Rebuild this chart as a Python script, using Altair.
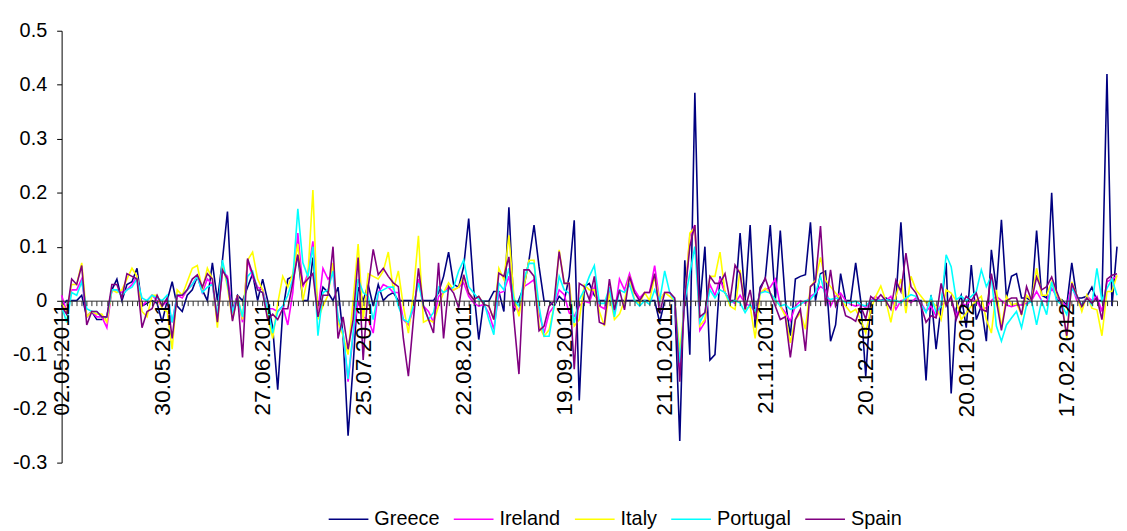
import json
import altair as alt
import pandas as pd

countries = ["Greece", "Ireland", "Italy", "Portugal", "Spain"]
colors = ["#000080", "#FF00FF", "#FFFF00", "#00FFFF", "#800080"]
date_labels = ["02.05.2011", "30.05.2011", "27.06.2011", "25.07.2011", "22.08.2011",
               "19.09.2011", "21.10.2011", "21.11.2011", "20.12.2011", "20.01.2012",
               "17.02.2012"]
label_step = 20
y_ticks = [-0.3, -0.2, -0.1, 0.0, 0.1, 0.2, 0.3, 0.4, 0.5]

greece = [
    -0.01, 0.0, 0.0, 0.0, 0.01, -0.03, -0.02, -0.035, -0.035, -0.03, 0.02, 0.04, 0.0, 0.03, 0.035, 0.06, -0.01, -0.005, 0.0, -0.005, -0.04, 0.0, 0.035, -0.01, -0.02, 0.01, 0.02,
    0.045, 0.02, 0.0, 0.07, 0.0, 0.075, 0.165, -0.02, 0.01, 0.0, 0.025, 0.05, 0.0, 0.04, 0.0, -0.05, -0.165, -0.02, 0.04, 0.045, 0.085, 0.0, 0.0, 0.08, -0.015, 0.025, 0.015,
    0.0, 0.025, -0.065, -0.25, -0.12, 0.025, 0.0, 0.03, -0.01, 0.03, 0.0, 0.01, 0.015, 0.0, 0.0, 0.0, 0.0, 0.0, 0.0, 0.0, 0.0, 0.015, 0.045, 0.09, 0.03, 0.025,
    0.063, 0.152, 0.02, -0.072, -0.001, -0.001, 0.017, 0.017, -0.02, 0.173, -0.02, 0.002, 0.026, 0.075, 0.14, 0.063, -0.001, -0.001, -0.01, 0.008, -0.001, 0.045, 0.149, -0.185, 0.026, 0.032,
    0.01, 0.0, 0.0, 0.0, 0.0, 0.0, 0.0, 0.0, 0.0, 0.0, 0.0, 0.0, 0.0, -0.04, 0.0, 0.0, 0.0, -0.26, 0.075, -0.1, 0.385, -0.01, 0.1, -0.11, -0.1, 0.045, 0.015,
    0.0, 0.0, 0.125, 0.0, 0.14, -0.05, 0.025, 0.04, 0.14, 0.0, 0.13, 0.0, -0.065, 0.04, 0.045, 0.048, 0.145, 0.0, 0.05, 0.055, -0.075, -0.045, 0.05, 0.0, 0.0, 0.07, 0.0,
    -0.14, 0.0, 0.0, 0.0, 0.005, 0.0, 0.0, 0.145, 0.0, 0.0, 0.0, 0.0, -0.148, 0.01, -0.09, -0.01, 0.07, -0.172, -0.015, 0.01, -0.05, 0.066, -0.035, -0.01, -0.075, 0.094, 0.02,
    0.15, 0.005, 0.045, 0.05, 0.005, 0.005, 0.0, 0.13, 0.01, 0.005, 0.2, 0.0, 0.002, -0.008, 0.07, 0.005, 0.005, 0.008, 0.025, 0.0, 0.0, 0.42, -0.01, 0.1,
]

ireland = [
    0.01, -0.02, 0.02, 0.02, 0.04, -0.03, -0.02, -0.03, -0.03, -0.05, 0.02, 0.02, 0.015, 0.02, 0.03, 0.045, -0.01, 0.0, 0.01, 0.0, -0.01, 0.0, -0.04, 0.01, 0.005, 0.02, 0.03,
    0.045, 0.015, 0.04, 0.03, -0.035, 0.055, 0.045, -0.02, 0.01, -0.04, 0.075, 0.045, 0.025, 0.02, -0.015, -0.015, -0.02, -0.01, -0.045, 0.015, 0.125, 0.025, 0.05, 0.11, -0.02, 0.06, 0.04,
    0.05, -0.035, -0.06, -0.15, -0.065, 0.0, -0.03, -0.035, -0.06, 0.015, 0.03, 0.025, 0.015, 0.015, -0.035, -0.045, -0.015, 0.04, -0.01, -0.02, -0.04, 0.008, 0.015, 0.025, 0.02, 0.025,
    0.033, 0.008, -0.004, -0.01, -0.007, -0.023, -0.053, 0.014, 0.017, 0.045, -0.01, -0.02, 0.026, 0.032, 0.039, -0.023, -0.06, -0.023, -0.01, 0.02, 0.011, -0.023, -0.029, -0.01, -0.001, -0.004,
    0.025, -0.01, -0.015, 0.02, -0.025, 0.04, 0.02, 0.05, 0.02, 0.005, 0.015, 0.015, 0.065, 0.0, 0.015, 0.015, 0.0, -0.125, 0.0, 0.12, 0.14, -0.055, -0.04, 0.03, 0.01, 0.04, 0.015,
    0.0, -0.005, 0.01, -0.005, -0.01, -0.02, 0.015, 0.02, 0.025, 0.04, -0.01, -0.022, -0.038, -0.01, 0.0, -0.005, 0.008, 0.014, 0.026, 0.02, -0.01, 0.008, 0.014, 0.0, -0.007, -0.01, -0.007,
    -0.013, 0.0, 0.008, 0.0, 0.0, 0.008, -0.016, 0.0, 0.002, -0.004, 0.005, -0.004, -0.02, -0.01, -0.029, -0.007, -0.004, 0.002, -0.029, -0.007, -0.007, 0.0, 0.0, -0.016, -0.013, 0.0, 0.008,
    0.0, -0.008, -0.011, -0.008, -0.008, -0.005, 0.0, 0.017, 0.0, -0.002, 0.023, 0.008, -0.002, -0.011, 0.029, 0.0, -0.008, 0.008, 0.0, 0.008, -0.02, 0.035, 0.04, 0.045,
]

italy = [
    -0.005, -0.02, 0.03, 0.03, 0.07, -0.03, -0.02, -0.025, -0.025, -0.04, 0.02, 0.015, 0.02, 0.04, 0.06, 0.045, -0.02, -0.03, 0.01, 0.01, -0.015, -0.02, -0.09, 0.02, 0.01, 0.035, 0.06,
    0.065, 0.02, 0.06, 0.04, -0.05, 0.07, 0.025, -0.035, 0.01, -0.035, 0.075, 0.09, 0.04, 0.02, -0.03, -0.07, -0.005, 0.045, 0.025, 0.05, 0.105, 0.0, 0.045, 0.205, -0.035, -0.01, 0.01,
    0.07, -0.04, -0.065, -0.1, 0.0, 0.105, -0.035, 0.05, 0.045, 0.04, 0.055, 0.09, 0.02, 0.055, -0.01, -0.06, 0.015, 0.12, -0.04, -0.035, -0.04, -0.01, 0.015, 0.033, 0.02, 0.025,
    0.045, 0.014, 0.002, 0.008, -0.007, -0.01, -0.035, 0.06, 0.039, 0.121, 0.008, -0.029, 0.026, 0.075, 0.075, -0.047, -0.066, -0.054, -0.01, 0.094, 0.032, 0.032, -0.047, -0.035, 0.029, 0.02,
    0.02, -0.02, -0.047, 0.015, -0.035, -0.025, 0.0, 0.045, 0.0, -0.005, 0.015, 0.0, 0.045, 0.0, 0.015, 0.008, 0.0, -0.095, 0.0, 0.125, 0.135, -0.047, -0.035, 0.045, 0.045, 0.09, 0.015,
    -0.01, -0.016, 0.057, -0.016, -0.01, -0.07, 0.014, 0.023, 0.014, 0.002, -0.01, -0.028, -0.078, -0.035, -0.023, -0.053, 0.026, 0.038, 0.08, 0.038, 0.026, 0.014, 0.002, -0.01, -0.022, -0.016, -0.035,
    -0.06, -0.016, 0.008, 0.027, 0.0, -0.04, 0.008, 0.04, -0.023, 0.045, 0.02, 0.008, -0.004, 0.0, -0.01, -0.035, 0.02, 0.014, 0.0, -0.035, -0.023, -0.01, 0.0, 0.008, -0.035, -0.06, 0.02,
    -0.05, 0.008, -0.008, -0.005, -0.026, 0.01, 0.0, 0.06, 0.01, 0.01, 0.035, 0.01, 0.0, -0.07, 0.035, 0.01, -0.02, 0.01, -0.014, -0.017, -0.065, 0.017, 0.017, 0.047,
]

portugal = [
    -0.01, -0.04, 0.015, 0.01, 0.035, -0.015, -0.02, -0.02, -0.03, -0.03, 0.02, 0.02, 0.01, 0.02, 0.025, 0.04, 0.005, 0.0, 0.01, 0.005, 0.0, 0.01, -0.04, 0.01, 0.01, 0.02, 0.03,
    0.045, 0.015, 0.025, 0.03, -0.03, 0.075, 0.03, -0.02, 0.005, -0.03, 0.045, 0.055, 0.02, 0.015, -0.015, -0.06, -0.02, -0.01, 0.01, 0.04, 0.17, 0.07, 0.045, 0.1, -0.065, 0.015, 0.02,
    0.055, -0.03, -0.06, -0.145, -0.06, 0.04, 0.015, 0.008, -0.035, 0.015, 0.02, 0.025, 0.025, -0.01, -0.035, -0.04, -0.01, 0.033, -0.01, -0.035, -0.022, 0.025, 0.015, 0.02, 0.025, 0.055,
    0.075, 0.026, 0.014, 0.002, -0.001, -0.035, -0.063, 0.032, 0.02, 0.06, 0.002, -0.01, 0.039, 0.069, 0.069, -0.01, -0.066, -0.066, -0.01, 0.045, 0.02, 0.014, -0.041, 0.002, 0.02, 0.045,
    0.065, -0.005, -0.005, 0.025, -0.03, 0.02, 0.015, 0.03, 0.0, -0.01, 0.0, -0.007, 0.02, 0.0, 0.055, 0.015, 0.0, -0.115, 0.0, 0.05, 0.1, -0.04, -0.022, 0.02, 0.005, 0.02, 0.015,
    -0.004, 0.0, -0.004, -0.022, -0.007, -0.02, 0.014, 0.017, 0.014, 0.002, -0.01, -0.007, -0.016, -0.013, -0.007, 0.0, 0.002, 0.014, 0.045, 0.008, 0.002, 0.005, 0.002, -0.004, -0.004, -0.001, -0.007,
    -0.01, 0.0, 0.002, 0.0, 0.002, 0.0, 0.0, -0.004, 0.005, 0.011, 0.008, -0.007, -0.022, 0.008, -0.022, -0.01, 0.085, 0.063, 0.002, 0.008, 0.0, 0.008, 0.017, 0.057, 0.026, 0.045, -0.047,
    -0.075, -0.045, -0.032, -0.02, -0.05, -0.008, 0.0, -0.045, 0.0, -0.026, 0.035, 0.0, -0.008, -0.026, 0.023, 0.008, -0.008, 0.005, -0.008, 0.06, 0.0, 0.023, 0.04, 0.01,
]

spain = [
    -0.01, -0.025, 0.04, 0.03, 0.065, -0.045, -0.02, -0.02, -0.03, -0.03, 0.03, 0.03, 0.005, 0.05, 0.045, 0.04, -0.05, -0.02, -0.015, 0.01, -0.01, 0.005, -0.07, 0.01, 0.01, 0.02, 0.04,
    0.048, 0.025, 0.05, 0.04, -0.04, 0.057, 0.04, -0.038, 0.01, -0.105, 0.078, 0.05, 0.02, 0.015, -0.035, -0.025, -0.035, -0.015, -0.015, 0.033, 0.085, 0.03, 0.04, 0.05, -0.03, 0.01, 0.01,
    0.1, -0.07, -0.03, -0.09, -0.035, 0.08, -0.11, 0.025, 0.095, 0.048, 0.06, 0.045, 0.033, 0.026, -0.07, -0.14, -0.035, 0.06, -0.01, -0.035, -0.06, 0.07, -0.07, 0.026, 0.014, -0.013,
    0.048, 0.014, 0.002, 0.008, -0.007, -0.01, -0.035, 0.051, 0.045, 0.081, -0.035, -0.136, 0.057, 0.057, 0.045, -0.056, -0.047, -0.01, -0.001, 0.091, 0.032, 0.032, -0.127, 0.032, 0.026, 0.002,
    0.045, -0.04, -0.044, 0.04, -0.017, 0.02, -0.017, 0.045, 0.015, 0.0, 0.015, 0.015, 0.05, -0.023, 0.015, 0.015, 0.005, -0.15, 0.008, 0.1, 0.14, -0.03, -0.022, 0.045, 0.032, 0.032, 0.05,
    0.0, 0.066, 0.05, -0.016, 0.02, -0.035, 0.02, 0.042, 0.014, -0.01, -0.035, -0.03, -0.105, -0.035, -0.016, -0.093, 0.026, 0.035, 0.138, -0.01, 0.057, -0.01, 0.008, -0.028, -0.032, -0.038, -0.01,
    -0.034, 0.008, 0.0, 0.011, 0.0, -0.016, 0.038, 0.017, 0.088, 0.026, 0.014, -0.01, -0.04, -0.028, -0.032, 0.032, -0.01, 0.008, -0.035, -0.01, 0.008, 0.0, 0.014, -0.016, -0.02, 0.05, 0.0,
    -0.055, 0.0, 0.005, 0.005, -0.026, 0.026, 0.0, 0.044, 0.02, 0.026, 0.044, 0.017, -0.008, -0.065, 0.032, 0.01, -0.011, 0.005, -0.005, 0.005, -0.035, 0.04, 0.047, 0.05,
]

series = [greece, ireland, italy, portugal, spain]
n = min(len(s) for s in series)

rows = []
for name, vals in zip(countries, series):
    for i, v in enumerate(vals[:n]):
        rows.append({"idx": i, "country": name, "value": v})
df = pd.DataFrame(rows)

FONT = "Liberation Sans"
W, H = 1063, 435
y_min, y_max = y_ticks[0], y_ticks[-1]
zero_offset = -H * (0 - y_min) / (y_max - y_min)

label_expr = (f"datum.value % {label_step} == 0 ? "
              f"{json.dumps(date_labels)}[datum.value / {label_step}] : ''")

x_axis = alt.Axis(
    values=list(range(n)), labelExpr=label_expr, labelAngle=-90,
    labelOverlap=False, labelBound=False, labelFlush=False,
    tickSize=5, tickColor="#303030", domainColor="#303030",
    labelPadding=-3, offset=zero_offset, grid=False, title=None,
    labelFont=FONT, labelFontSize=23, labelColor="black", zindex=1,
)
y_axis = alt.Axis(
    values=y_ticks, labelExpr="toString(round(datum.value*10)/10)",
    tickSize=5, labelPadding=10, domainColor="black", tickColor="black",
    grid=False, title=None, labelFont=FONT, labelFontSize=20, labelColor="black",
)

chart = alt.Chart(df).mark_line(strokeWidth=1.6).encode(
    x=alt.X("idx:Q", scale=alt.Scale(domain=[0, n - 1], nice=False, zero=False), axis=x_axis),
    y=alt.Y("value:Q", scale=alt.Scale(domain=[y_min, y_max], nice=False), axis=y_axis),
    color=alt.Color(
        "country:N",
        scale=alt.Scale(domain=countries, range=colors),
        legend=alt.Legend(
            orient="none", legendX=268, legendY=471, direction="horizontal",
            title=None, symbolType="stroke", symbolSize=1600, symbolStrokeWidth=1.6,
            labelFont=FONT, labelFontSize=20, labelColor="black",
            columnPadding=10, labelOffset=5,
        ),
    ),
).properties(
    width=W, height=H,
    autosize=alt.AutoSizeParams(type="none"),
    padding={"left": 54, "top": 21, "right": 2, "bottom": 70},
    background="white",
).configure_view(stroke=None)

chart.save("out.html", embed_options={"renderer": "svg", "actions": False})
